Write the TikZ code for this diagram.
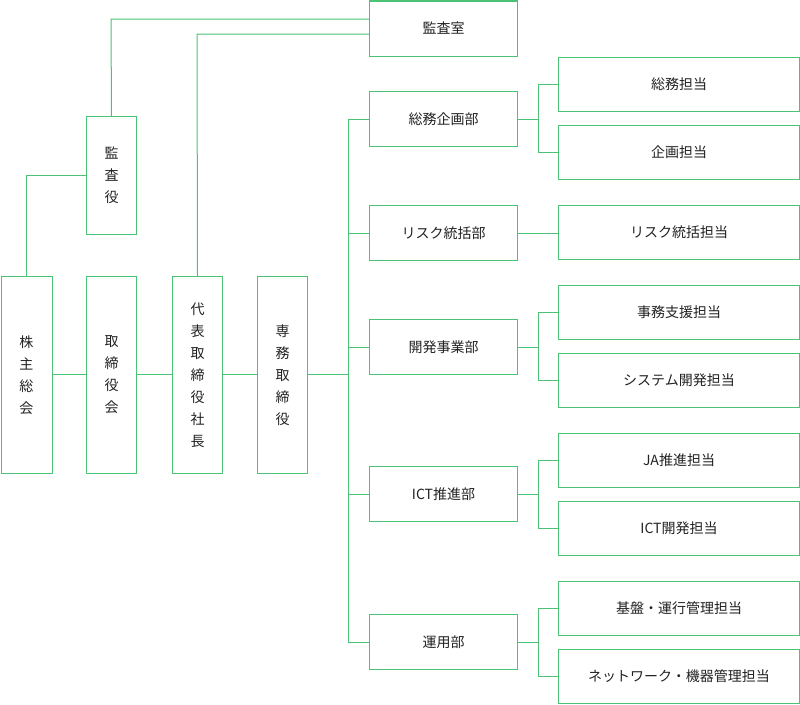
\documentclass[tikz,border=0pt]{standalone}
\usepackage{fontspec}
\setmainfont{Noto Sans CJK JP}
\definecolor{ln}{HTML}{4CC276}
\definecolor{tx}{HTML}{222222}
\begin{document}
\begin{tikzpicture}[x=1pt,y=-1pt,
 bx/.style={draw=ln,line width=1pt,fill=white,text=tx,font=\fontsize{14}{16}\selectfont,align=center,inner sep=0pt},
 vt/.style={bx,font=\fontsize{14}{22}\selectfont},
 cn/.style={draw=ln,line width=1pt}]
\useasboundingbox (0,0) rectangle (800,704);
% boxes
\node[bx,minimum width=148,minimum height=55,anchor=north west] (audit) at (369,0.5) {監査室};
\node[vt,minimum width=50,minimum height=118,anchor=north west] (kansa) at (86,116) {監\\査\\役};
\node[vt,minimum width=51,minimum height=197,anchor=north west] (kabu) at (0.5,276) {株\\主\\総\\会};
\node[vt,minimum width=50,minimum height=197,anchor=north west] (tori) at (86,276) {取\\締\\役\\会};
\node[vt,minimum width=50,minimum height=197,anchor=north west] (pres) at (172,276) {代\\表\\取\\締\\役\\社\\長};
\node[vt,minimum width=50,minimum height=197,anchor=north west] (senmu) at (257,276) {専\\務\\取\\締\\役};
\foreach \n/\y/\t in {d1/91/総務企画部,d2/205/リスク統括部,d3/319/開発事業部,d4/466/ICT推進部,d5/614/運用部}
  \node[bx,minimum width=148,minimum height=55,anchor=north west] (\n) at (369,\y) {\t};
\foreach \n/\y/\t in {r1/57/総務担当,r2/125/企画担当,r3/205/リスク統括担当,r4/285/事務支援担当,r5/353/システム開発担当,r6/433/JA推進担当,r7/501/ICT開発担当,r8/581/基盤・運行管理担当,r9/649/ネットワーク・機器管理担当}
  \node[bx,minimum width=241,minimum height=54,anchor=north west] (\n) at (558,\y) {\t};
% connectors
\coordinate (a1) at (111,19); \coordinate (a2) at (197,34);
\draw[cn] (audit.west|-a1) -- (a1) -- (kansa.north);
\draw[cn] (audit.west|-a2) -- (a2) -- (pres.north);
\draw[cn] (kansa.west) -| (kabu.north);
\draw[cn] (kabu.east|-0,374) -- (tori.west|-0,374);
\draw[cn] (tori.east|-0,374) -- (pres.west|-0,374);
\draw[cn] (pres.east|-0,374) -- (senmu.west|-0,374);
\coordinate (sp) at (348,374);
\draw[cn] (senmu.east|-sp) -- (sp);
\draw[cn] (d1.west) -| (sp|-d5.west) -- (d5.west);
\foreach \n in {d2,d3,d4} \draw[cn] (sp|-\n.west) -- (\n.west);
\draw[cn] (d2.east) -- (d2.east-|r3.west);
\foreach \d/\a/\b in {d1/r1/r2,d3/r4/r5,d4/r6/r7,d5/r8/r9}{
  \coordinate (m\d) at (538,0);
  \draw[cn] (\d.east) -- (m\d|-\d.east);
  \draw[cn] (\a.west) -| (m\d|-\a.west) |- (\b.west);
}
\end{tikzpicture}
\end{document}
